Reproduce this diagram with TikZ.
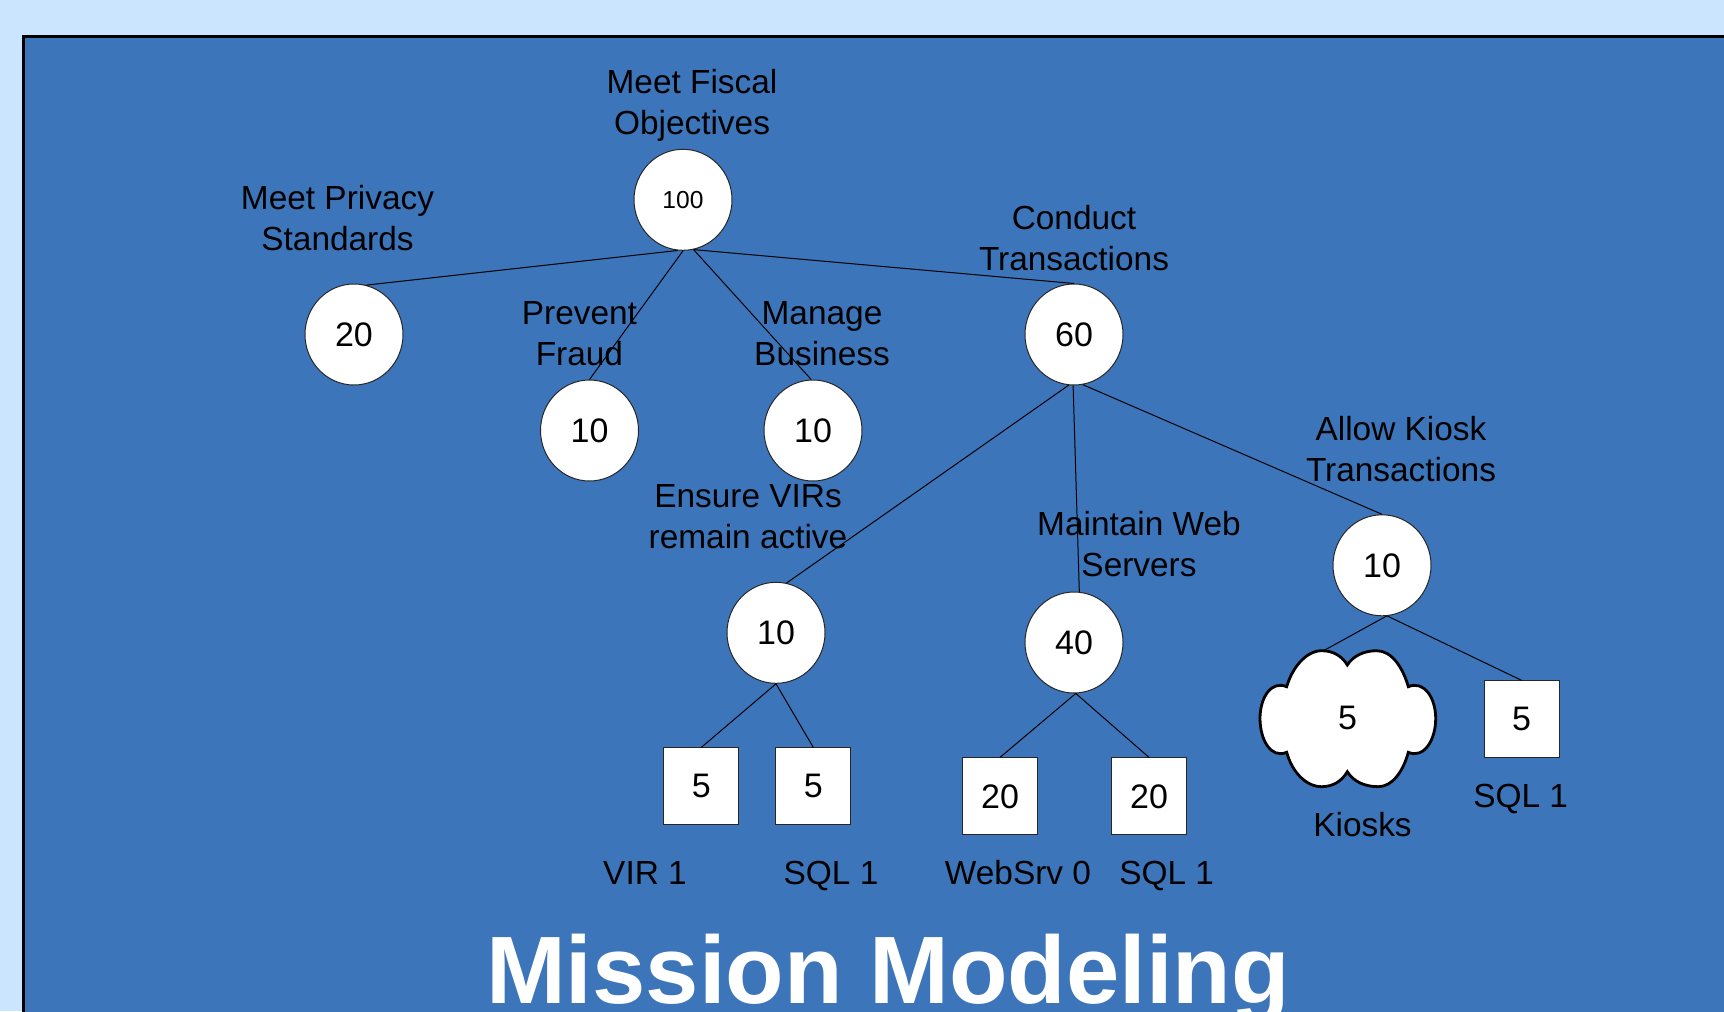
\documentclass[tikz,border=0pt]{standalone}
\usepackage{fontspec}
\setmainfont{Liberation Sans}
\usetikzlibrary{shapes.geometric,calc}
\definecolor{pagebg}{HTML}{CCE5FF}
\definecolor{panelbg}{HTML}{3C75BA}
\tikzset{
  goalnode/.style={ellipse,draw=black!85,line width=0.5pt,fill=white,minimum width=49pt,minimum height=50.5pt,inner sep=0pt,font=\fontsize{17}{20}\selectfont},
  assetnode/.style={rectangle,draw=black!85,line width=0.5pt,fill=white,minimum width=37.5pt,minimum height=38.5pt,inner sep=0pt,font=\fontsize{17}{20}\selectfont},
  label/.style={inner sep=0pt,align=center,text=black,font=\fontsize{16.7}{20.5}\selectfont},
  baselabel/.style={inner sep=0pt,anchor=base,text=black,font=\fontsize{16.7}{20.5}\selectfont},
  link/.style={draw=black,line width=0.5pt},
}
\begin{document}
\begin{tikzpicture}[x=0.5pt,y=-0.5pt]
\useasboundingbox (0,0) rectangle (1724,1011.3);
\clip (0,0) rectangle (1724,1011.3);
\fill[pagebg] (0,0) rectangle (1724,1011.3);
\draw[black,line width=1.5pt,fill=panelbg] (23.3,36.3) rectangle (1780,1060);

% cloud outline
\draw[black,line width=1.4pt,fill=white]
 (1286.7,686.7) .. controls (1292,668) and (1306,650.7) .. (1321.7,650.7)
 .. controls (1333,650.7) and (1342,656) .. (1347.3,665)
 .. controls (1353,656) and (1364,650.7) .. (1376.7,650.7)
 .. controls (1392,650.7) and (1403,668) .. (1408.3,686.7)
 .. controls (1424,680) and (1435.7,698) .. (1435.7,718.3)
 .. controls (1435.7,740) and (1424,759) .. (1408.3,752.3)
 .. controls (1403,772) and (1392,786.7) .. (1378.3,786.7)
 .. controls (1364,786.7) and (1353,781) .. (1347.3,771.7)
 .. controls (1342,781) and (1333,786.7) .. (1321.7,786.7)
 .. controls (1306,786.7) and (1292,772) .. (1286.7,752.3)
 .. controls (1271,759) and (1260,740) .. (1260,718.3)
 .. controls (1260,698) and (1271,680) .. (1286.7,686.7) -- cycle;
\coordinate (cloudtop) at (1323,651);
\node[inner sep=0pt,font=\fontsize{17}{20}\selectfont] (kiosk) at (1347.5,717.5) {5};

% goal nodes
\node[goalnode,font=\fontsize{12.3}{14}\selectfont] (root) at (683,199.8) {100};
\node[goalnode] (privacy) at (354,334.5) {20};
\node[goalnode] (fraud) at (589.5,430.5) {10};
\node[goalnode] (business) at (813,430.5) {10};
\node[goalnode] (trans) at (1074,334.5) {60};
\node[goalnode] (virs) at (776,632.8) {10};
\node[goalnode] (web) at (1074,642.5) {40};
\node[goalnode] (allow) at (1382,565.3) {10};

% asset nodes
\node[assetnode] (vir) at (701.3,786.4) {5};
\node[assetnode] (sqla) at (813.3,786.4) {5};
\node[assetnode] (websrv) at (1000,796.4) {20};
\node[assetnode] (sqlb) at (1149,796.4) {20};
\node[assetnode] (sqlc) at (1521.5,719.3) {5};

% connectors
\draw[link] (root.-96) -- (privacy.76);
\draw[link] (root.south) -- (fraud.north);
\draw[link] (root.-78) -- (business.92);
\draw[link] (root.-78) -- (trans.north);
\draw[link] (trans.-96) -- (virs.78);
\draw[link] (trans.-91) -- (web.84);
\draw[link] (trans.-80) -- (allow.north);
\draw[link] (virs.south) -- (vir.north);
\draw[link] (virs.south) -- (sqla.north);
\draw[link] (web.-88) -- (websrv.north);
\draw[link] (web.-88) -- (sqlb.north);
\draw[link] (allow.-85) -- (cloudtop);
\draw[link] (allow.-84) -- (sqlc.north);

% labels
\node[label] (lroot) at (692,105.3) {Meet Fiscal\\Objectives};
\node[label] (lprivacy) at (337.5,218.2) {Meet Privacy\\Standards};
\node[label] (lfraud) at (579.4,334) {Prevent\\Fraud};
\node[label] (lbusiness) at (822,334) {Manage\\Business};
\node[label] (ltrans) at (1074,237.6) {Conduct\\Transactions};
\node[label] (lvirs) at (748,517) {Ensure VIRs\\remain active};
\node[label] (lweb) at (1139,544.3) {Maintain Web\\Servers};
\node[label] (lallow) at (1401,448.8) {Allow Kiosk\\Transactions};
\node[baselabel] (lvir) at (645,884.6) {VIR 1};
\node[baselabel] (lsqla) at (831,884.6) {SQL 1};
\node[baselabel] (lwebsrv) at (1018,884.6) {WebSrv 0};
\node[baselabel] (lsqlb) at (1166.6,884.6) {SQL 1};
\node[baselabel] (lkiosk) at (1362.5,836.8) {Kiosks};
\node[baselabel] (lsqlc) at (1520.6,807) {SQL 1};

\node[inner sep=0pt,anchor=base,text=white,font=\fontsize{47.9}{50}\selectfont\bfseries] (title) at (888,1003) {Mission Modeling};
\end{tikzpicture}
\end{document}
